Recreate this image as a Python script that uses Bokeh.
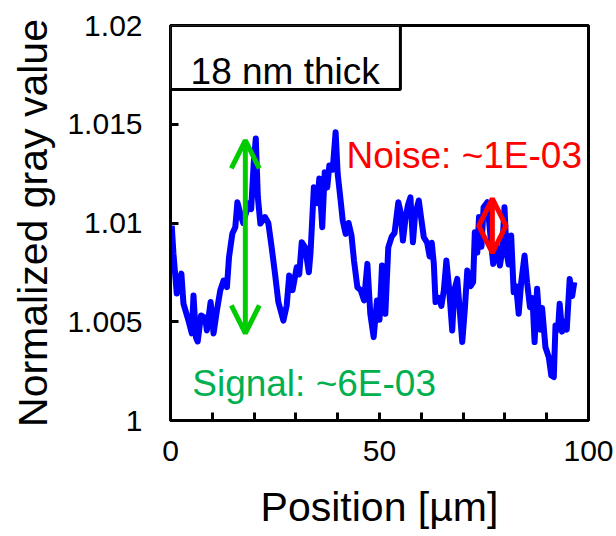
from bokeh.plotting import figure
from bokeh.models import (FixedTicker, Arrow, OpenHead, Label, BoxAnnotation,
                          Range1d, CustomJSTickFormatter)
from bokeh.embed import file_html
from bokeh.resources import INLINE

# ---- data ----
position = [0.3, 0.7, 1.5, 2.6, 3.1, 4.3, 5.1, 5.5, 6.1, 6.5, 7.3, 8.3, 8.7, 9.6, 10.3,
            11.1, 11.9, 12.7, 13.5, 14.0, 14.8, 15.5, 16.0, 16.7, 17.4, 18.7, 19.3, 19.9,
            20.4, 20.9, 21.5, 22.6, 23.4, 24.2, 25.0, 25.8, 27.0, 27.8, 28.4, 29.2, 30.2,
            30.8, 31.4, 32.2, 33.1, 33.5, 34.3, 35.1, 35.6, 36.3, 36.9, 37.5, 38.0, 38.8,
            39.5, 40.0, 40.7, 41.2, 41.9, 42.6, 43.3, 43.9, 44.7, 45.5, 46.3, 47.1, 47.8,
            48.6, 49.4, 50.0, 50.6, 51.4, 52.1, 52.9, 53.6, 54.5, 55.0, 55.6, 56.2, 56.8,
            57.4, 58.0, 58.5, 59.4, 60.0, 60.6, 61.4, 62.0, 62.5, 63.0, 63.4, 64.2, 64.8,
            65.4, 66.0, 66.6, 67.4, 67.9, 68.6, 69.2, 69.8, 70.4, 71.0, 71.8, 72.4, 72.8,
            73.4, 73.8, 74.4, 74.9, 75.8, 76.6, 77.2, 78.0, 78.8, 79.3, 79.9, 80.4, 80.9,
            81.5, 82.1, 82.7, 83.3, 83.9, 84.7, 85.3, 86.0, 86.6, 87.1, 87.7, 88.4, 88.9,
            89.7, 90.5, 91.1, 91.7, 92.1, 92.7, 93.1, 93.7, 94.3, 94.8, 95.5, 96.1, 96.6]
gray_value = [1.00987, 1.00846, 1.00643, 1.00744, 1.00592, 1.00506, 1.00441, 1.00633, 1.00420,
              1.00400, 1.00532, 1.00520, 1.00456, 1.00600, 1.00441, 1.00557, 1.00658, 1.00709,
              1.00675, 1.00827, 1.00947, 1.00979, 1.01105, 1.01048, 1.01000, 1.01100, 1.01070,
              1.01301, 1.01428, 1.01131, 1.00997, 1.01030, 1.01000, 1.00877, 1.00744, 1.00600,
              1.00506, 1.00582, 1.00734, 1.00660, 1.00776, 1.00740, 1.00903, 1.00877, 1.00751,
              1.00850, 1.01181, 1.01100, 1.01225, 1.00979, 1.01257, 1.01180, 1.01291, 1.01270,
              1.01460, 1.01249, 1.01114, 1.01013, 1.00945, 1.01000, 1.00937, 1.00810, 1.00675,
              1.00660, 1.00608, 1.00793, 1.00540, 1.00422, 1.00608, 1.00510, 1.00785, 1.00540,
              1.00877, 1.00930, 1.00950, 1.01105, 1.01060, 1.00911, 1.01020, 1.01090, 1.01130,
              1.00903, 1.01040, 1.01114, 1.01020, 1.00928, 1.00900, 1.00830, 1.00900, 1.00793,
              1.00600, 1.00620, 1.00580, 1.00660, 1.00810, 1.00680, 1.00456, 1.00660, 1.00717,
              1.00557, 1.00397, 1.00560, 1.00760, 1.00680, 1.00700, 1.00953, 1.00850, 1.01030,
              1.00880, 1.01080, 1.01105, 1.00920, 1.00793, 1.00880, 1.00785, 1.00850, 1.01080,
              1.00850, 1.00790, 1.00937, 1.00650, 1.00680, 1.00540, 1.00700, 1.00835, 1.00700,
              1.00574, 1.00620, 1.00397, 1.00667, 1.00460, 1.00570, 1.00371, 1.00320, 1.00228,
              1.00220, 1.00481, 1.00460, 1.00591, 1.00450, 1.00500, 1.00460, 1.00717, 1.00630,
              1.00700]
x_ticks = [0, 50, 100]
x_minor_ticks = [10, 20, 30, 40, 60, 70, 80, 90]
y_ticks = [1.0, 1.005, 1.01, 1.015, 1.02]

signal_x, signal_low, signal_high = 17.9, 1.00441, 1.01418
noise_x, noise_low, noise_high = 77.0, 1.00849, 1.01123

FONT = "Liberation Sans"

p = figure(width=616, height=536, output_backend="svg", toolbar_location=None,
           x_range=Range1d(0, 100), y_range=Range1d(1.0, 1.02),
           min_border_left=170, min_border_right=28, min_border_top=25,
           min_border_bottom=116, background_fill_color="white",
           border_fill_color="white")
p.xgrid.visible = False
p.ygrid.visible = False
p.outline_line_color = "black"
p.outline_line_width = 3
p.outline_line_alpha = 1

for ax in (p.xaxis[0], p.yaxis[0]):
    ax.axis_line_width = 3
    ax.axis_line_color = "black"
    ax.major_tick_in = 8
    ax.major_tick_out = 0
    ax.minor_tick_in = 8
    ax.minor_tick_out = 0
    ax.major_tick_line_width = 3
    ax.minor_tick_line_width = 3
    ax.major_label_text_font = FONT
    ax.major_label_text_font_size = "30px"
    ax.major_label_text_color = "black"
    ax.axis_label_text_font = FONT
    ax.axis_label_text_font_size = "41px"
    ax.axis_label_text_font_style = "normal"
    ax.axis_label_text_color = "black"

p.xaxis.ticker = FixedTicker(ticks=x_ticks, minor_ticks=x_minor_ticks)
p.yaxis.ticker = FixedTicker(ticks=y_ticks, minor_ticks=[])
p.yaxis.formatter = CustomJSTickFormatter(
    code="return tick.toFixed(3).replace(/\\.?0+$/, '');")
p.xaxis.major_label_standoff = 20
p.yaxis.major_label_standoff = 28
p.xaxis.axis_label = "Position [\u00b5m]"
p.yaxis.axis_label = "Normalized gray value"
p.xaxis.axis_label_standoff = 20
p.yaxis.axis_label_standoff = 8

p.line(position, gray_value, line_color="#0000FF", line_width=6, line_join="round")

green = "#00CC00"
red = "#FF0000"
p.add_layout(Arrow(x_start=signal_x, y_start=signal_low, x_end=signal_x, y_end=signal_high,
                   line_color=green, line_width=5,
                   start=OpenHead(size=28, line_color=green, line_width=5),
                   end=OpenHead(size=28, line_color=green, line_width=5)))
p.add_layout(Arrow(x_start=noise_x, y_start=noise_low, x_end=noise_x, y_end=noise_high,
                   line_color=red, line_width=5,
                   start=OpenHead(size=28, line_color=red, line_width=5),
                   end=OpenHead(size=28, line_color=red, line_width=5)))

p.add_layout(BoxAnnotation(left=0, right=55, bottom=1.01676, top=1.02,
                           fill_color="white", fill_alpha=1,
                           line_color="black", line_width=3, line_alpha=1))
p.add_layout(Label(x=4.8, y=1.01767, text="18 nm thick", text_font=FONT,
                   text_font_size="37px", text_color="black", text_baseline="alphabetic"))
p.add_layout(Label(x=42.1, y=1.01342, text="Noise: ~1E-03", text_font=FONT,
                   text_font_size="37px", text_color=red, text_baseline="alphabetic"))
p.add_layout(Label(x=5.2, y=1.00187, text="Signal: ~6E-03", text_font=FONT,
                   text_font_size="37px", text_color="#00B050", text_baseline="alphabetic"))

open("out.html", "w").write(file_html(p, INLINE))
